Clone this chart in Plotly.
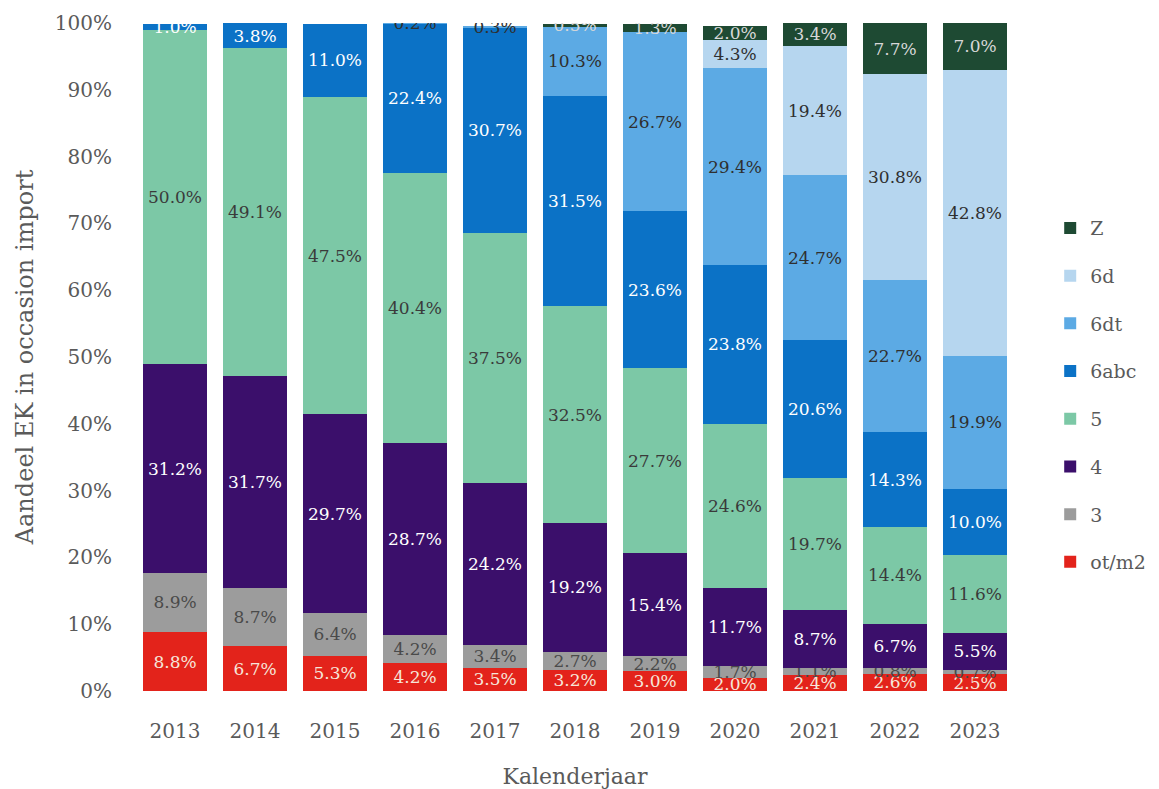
import plotly.graph_objects as go

years = ['2013', '2014', '2015', '2016', '2017', '2018', '2019', '2020', '2021', '2022', '2023']

# shares per emission class (% of used-car imports)
ot_m2 = [8.8, 6.7, 5.3, 4.2, 3.5, 3.2, 3.0, 2.0, 2.4, 2.6, 2.5]
cls_3 = [8.9, 8.7, 6.4, 4.2, 3.4, 2.7, 2.2, 1.7, 1.1, 0.8, 0.7]
cls_4 = [31.2, 31.7, 29.7, 28.7, 24.2, 19.2, 15.4, 11.7, 8.7, 6.7, 5.5]
cls_5 = [50.0, 49.1, 47.5, 40.4, 37.5, 32.5, 27.7, 24.6, 19.7, 14.4, 11.6]
cls_6abc = [1.0, 3.8, 11.0, 22.4, 30.7, 31.5, 23.6, 23.8, 20.6, 14.3, 10.0]
cls_6dt = [0, 0, 0, 0.2, 0.3, 10.3, 26.7, 29.4, 24.7, 22.7, 19.9]
cls_6d = [0, 0, 0, 0, 0, 0, 0, 4.3, 19.4, 30.8, 42.8]
cls_z = [0, 0, 0, 0, 0, 0.5, 1.3, 2.0, 3.4, 7.7, 7.0]

series = [
    ('ot/m2', ot_m2, '#e3231b', '#f6e6da'),
    ('3', cls_3, '#9c9c9c', '#4a4a4a'),
    ('4', cls_4, '#3b0f6b', 'white'),
    ('5', cls_5, '#7cc8a6', '#3a3a3a'),
    ('6abc', cls_6abc, '#0b72c6', 'white'),
    ('6dt', cls_6dt, '#5caae4', '#2f2f2f'),
    ('6d', cls_6d, '#b6d6ef', '#2f2f2f'),
    ('Z', cls_z, '#1e4a33', '#d8d8d8'),
]

font = 'DejaVu Serif'

fig = go.Figure()
for i, (name, vals, color, txtcol) in enumerate(series):
    labels = [f'{v:.1f}%' if v > 0 else '' for v in vals]
    fig.add_trace(go.Bar(
        x=years, y=vals, name=name, legendgroup=name, legendrank=100 - i,
        marker=dict(color=color, line=dict(width=0)),
        text=labels, textposition='inside', insidetextanchor='middle',
        textangle=0, constraintext='none',
        insidetextfont=dict(color=txtcol, size=17, family=font),
    ))

fig.update_layout(
    barmode='stack', bargap=0.19,
    width=1159, height=789,
    margin=dict(l=127, r=152, t=15, b=106),
    plot_bgcolor='white', paper_bgcolor='white',
    font=dict(family=font, color='#5a5a5a', size=20),
    uniformtext=dict(minsize=17, mode='show'),
    legend=dict(traceorder='grouped', tracegroupgap=20,
                x=1.04, y=0.443, yanchor='middle', font=dict(size=19)),
)
fig.update_yaxes(range=[0, 100], dtick=10, ticksuffix='%', showgrid=False,
                 zeroline=False, ticks='outside', ticklen=18, tickcolor='white',
                 automargin=False,
                 title_text='Aandeel EK in occasion import',
                 title_font=dict(size=24), title_standoff=14)
fig.update_xaxes(showgrid=False, ticks='outside', ticklen=22, tickcolor='white',
                 automargin=False,
                 title_text='Kalenderjaar', title_font=dict(size=22),
                 title_standoff=26)

fig.write_html('out.html')
